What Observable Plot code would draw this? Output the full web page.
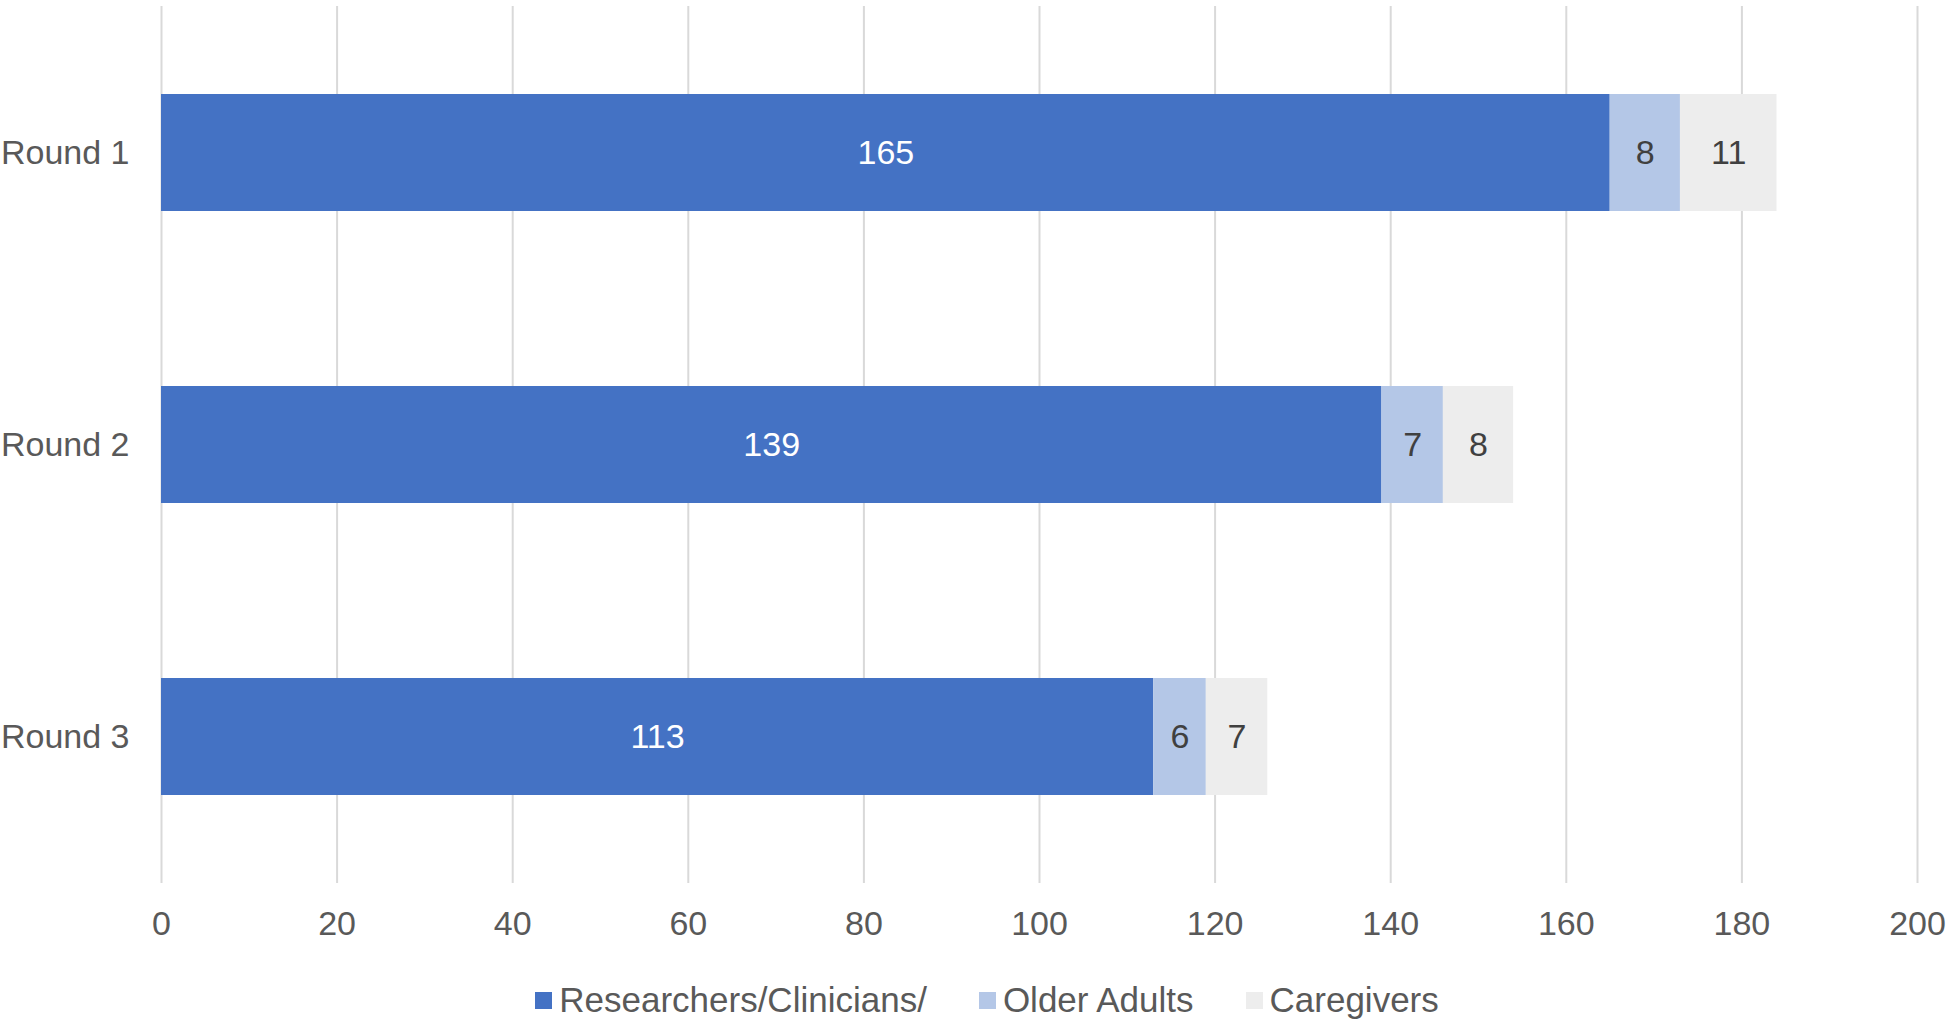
<!DOCTYPE html>
<html>
<head>
<meta charset="utf-8">
<script src="https://cdn.jsdelivr.net/npm/d3@7"></script>
<script src="https://cdn.jsdelivr.net/npm/@observablehq/plot@0.6"></script>
<style>
  html, body { margin: 0; padding: 0; background: #fff; }
  #wrap { position: relative; width: 1952px; height: 1020px; font-family: "Liberation Sans", Arial, sans-serif; }
  #legend { position: absolute; left: 0; top: 980px; width: 1952px; height: 40px; display: flex; justify-content: center; align-items: center; gap: 52px; font-size: 35px; color: #595959; padding-left: 22px; box-sizing: border-box; }
  #legend .item { display: flex; align-items: center; }
  #legend .sw { width: 17px; height: 17px; margin-right: 7px; }
</style>
</head>
<body>
<div id="wrap"><div id="chart"></div><div id="legend"></div></div>
<script>
const rounds = ["Round 1", "Round 2", "Round 3"];
const seriesNames = ["Researchers/Clinicians/", "Older Adults", "Caregivers"];
const researchers = [165, 139, 113];
const olderAdults = [8, 7, 6];
const caregivers = [11, 8, 7];
const xTicks = [0, 20, 40, 60, 80, 100, 120, 140, 160, 180, 200];
const colors = ["#4472C4", "#B4C7E7", "#EDEDED"];

const seriesValues = [researchers, olderAdults, caregivers];
const data = [];
rounds.forEach((r, i) => {
  seriesNames.forEach((s, j) => {
    data.push({round: r, series: s, value: seriesValues[j][i]});
  });
});

const labelOpts = {x: "value", y: "round", z: "series", order: null, text: d => String(d.value), fontSize: 34};

const chart = Plot.plot({
  width: 1952,
  height: 975,
  marginTop: 6,
  marginBottom: 92,
  marginLeft: 161,
  marginRight: 35,
  style: {fontFamily: '"Liberation Sans", Arial, sans-serif', fontSize: "34px", color: "#595959", background: "#fff"},
  x: {domain: [0, 200], ticks: xTicks, label: null},
  y: {domain: rounds, paddingInner: 0.6, paddingOuter: 0.3, label: null},
  color: {domain: seriesNames, range: colors},
  marks: [
    Plot.gridX(xTicks, {stroke: "#d9d9d9", strokeOpacity: 1, strokeWidth: 2}),
    Plot.barX(data, Plot.stackX({x: "value", y: "round", fill: "series", order: null})),
    Plot.text(data, Plot.filter(d => d.series === seriesNames[0], Plot.stackX({...labelOpts, fill: "#ffffff"}))),
    Plot.text(data, Plot.filter(d => d.series !== seriesNames[0], Plot.stackX({...labelOpts, fill: "#404040"}))),
    Plot.axisX(xTicks, {tickSize: 0, tickPadding: 27, fill: "#595959", fontSize: 34}),
    Plot.axisY({tickSize: 0, tickPadding: 32, fill: "#595959", fontSize: 34})
  ]
});
document.getElementById("chart").appendChild(chart);

const legend = document.getElementById("legend");
seriesNames.forEach((s, i) => {
  const item = document.createElement("div");
  item.className = "item";
  const sw = document.createElement("span");
  sw.className = "sw";
  sw.style.background = colors[i];
  const t = document.createElement("span");
  t.textContent = s;
  item.appendChild(sw);
  item.appendChild(t);
  legend.appendChild(item);
});
</script>
</body>
</html>
